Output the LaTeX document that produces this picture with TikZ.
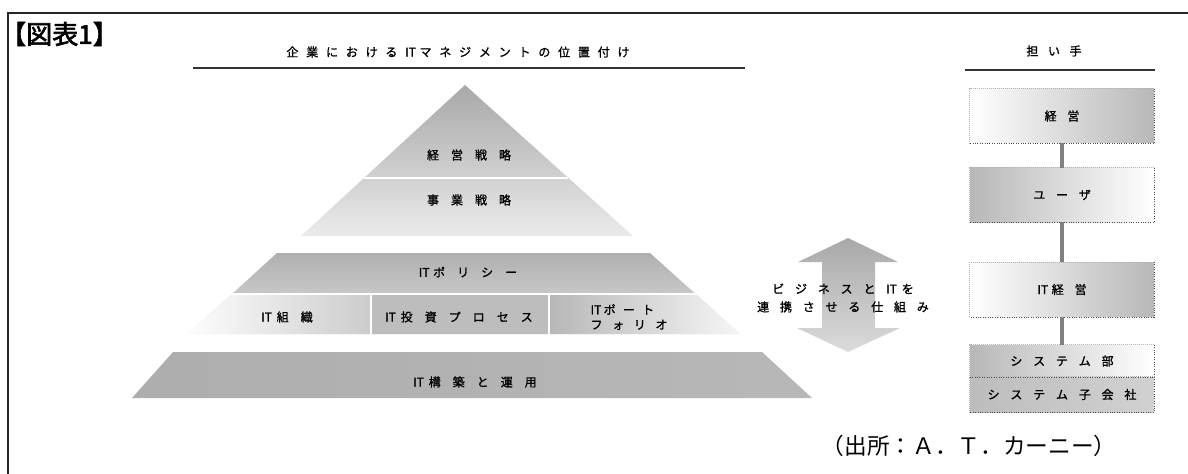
\documentclass[tikz,border=0pt]{standalone}
\usepackage{fontspec}
\newfontfamily\jp[FakeBold=1.2]{Noto Sans CJK JP}
\newfontfamily\jpn{Noto Sans CJK JP}
\newfontfamily\jpb[FakeBold=2.5]{Noto Sans CJK JP}
\newcommand\jsp{\hspace{1em}}
\newcommand\jsq{\hspace{0.9em}}
\newcommand\jsh{\hspace{0.65em}}
\begin{document}
\begin{tikzpicture}[x=0.75pt,y=-0.75pt,
  lbl/.style={inner sep=0pt, font=\jp\fontsize{9}{11}\selectfont},
  frameline/.style={line width=1.1pt, black!85},
  rule/.style={line width=1pt, black!80},
  rbox/.style={rectangle, inner sep=0pt, minimum width=138pt, font=\jp\fontsize{9}{11}\selectfont},
  dotedge/.style={densely dotted, line width=0.8pt, black!70},
  lightedge/.style={densely dotted, line width=0.5pt, black!30},
  linkbar/.style={line width=2.4pt, black!50},
  whiteline/.style={white, line width=1.2pt}]
\useasboundingbox (0,0) rectangle (1188,474);

% frame
\coordinate (fTL) at (8,13);
\coordinate (fTR) at (1188,13);
\coordinate (fBL) at (8,474);
\draw[frameline] (fTR) -- (fTL) -- (fBL);

% title
\node[inner sep=0pt, anchor=west, font=\jpb\fontsize{19.5}{22}\selectfont] (title) at (0,34) {【図表1】};

% headers
\node[lbl] (hdr1) at (458,52) {企\jsh 業\jsh に\jsh お\jsh け\jsh る\jsh IT\hspace{0.3em}マ\jsh ネ\jsh ジ\jsh メ\jsh ン\jsh ト\jsh の\jsh 位\jsh 置\jsh 付\jsh け};
\coordinate (u1a) at (193,68);
\coordinate (u1b) at (745,68);
\draw[rule] (u1a) -- (u1b);
\node[lbl] (hdr2) at (1054,51) {担\hspace{0.8em}い\hspace{0.8em}手};
\coordinate (u2a) at (965,70);
\coordinate (u2b) at (1155,70);
\draw[rule] (u2a) -- (u2b);

% top triangle
\shade[top color=black!34, bottom color=black!8] (465,85) -- (633,236) -- (301,236) -- cycle;
\draw[whiteline] (364,178) -- (568,178);
\node[lbl] (keieisenryaku) at (469,155) {経\jsp 営\jsp 戦\jsp 略};
\node[lbl] (jigyosenryaku) at (469,200) {事\jsp 業\jsp 戦\jsp 略};

% middle trapezoid
\begin{scope}
\clip (277,253) -- (650,253) -- (740,334) -- (188,334) -- cycle;
\shade[top color=black!32, bottom color=black!12] (180,250) rectangle (745,336);
\shade[left color=white, right color=black!20] (180,294) rectangle (371,336);
\fill[black!26] (371,294) rectangle (549,336);
\shade[left color=black!28, right color=black!3] (549,294) rectangle (745,336);
\draw[whiteline] (180,294) -- (745,294);
\draw[whiteline] (371,294) -- (371,336);
\draw[whiteline, line width=2pt] (549,294) -- (549,336);
\end{scope}
\node[lbl] (itpolicy) at (468,272) {IT\hspace{0.3em}ポ\jsp リ\jsp シ\jsp ー};
\node[lbl] (itsoshiki) at (287,317) {IT\hspace{0.4em}組\jsp 織};
\node[lbl] (ittoshi) at (459,317) {IT\hspace{0.4em}投\jsp 資\jsp プ\jsp ロ\jsp セ\jsp ス};
\node[lbl, align=left, font=\jp\fontsize{9}{11.2}\selectfont] (itportfolio) at (629,317) {IT\hspace{0.2em}ポ\hspace{0.6em}ー\hspace{0.6em}ト\\フ\hspace{0.8em}ォ\hspace{0.8em}リ\hspace{0.8em}オ};

% bottom trapezoid
\shade[left color=black!32, middle color=black!10, right color=black!28] (173,352) -- (762,352) -- (812,398) -- (132,398) -- cycle;
\node[lbl] (itkochiku) at (475,382) {IT\hspace{0.4em}構\jsp 築\jsp と\jsp 運\jsp 用};

% double arrow
\shade[top color=black!34, bottom color=black!14]
  (848,238) -- (898,262) -- (875,262) -- (875,328) -- (900,328) -- (848,352)
  -- (797,328) -- (822,328) -- (822,262) -- (798,262) -- cycle;
\node[lbl, align=center, font=\jp\fontsize{9}{13.5}\selectfont] (renkei) at (843,298)
  {ビ\jsq ジ\jsq ネ\jsq ス\jsq と\jsq IT\hspace{0.4em}を\\連\jsq 携\jsq さ\jsq せ\jsq る\jsq 仕\jsq 組\jsq み};

% right column
\node[rbox, minimum height=40.5pt, left color=white, right color=black!28] (keiei) at (1062,116) {経\jsq 営};
\node[rbox, minimum height=40.5pt, left color=black!28, right color=white] (user) at (1062,195) {ユ\jsq ー\jsq ザ};
\node[rbox, minimum height=41pt, left color=white, right color=black!28] (itkeiei) at (1062,289.5) {IT\hspace{0.3em}経\jsq 営};
\node[rbox, minimum height=24pt, left color=black!28, right color=white] (sysbu) at (1062,361) {シ\jsq ス\jsq テ\jsq ム\jsq 部};
\node[rbox, minimum height=26.25pt, left color=black!26, right color=black!18] (syskogaisha) at (1062,394.5) {シ\jsq ス\jsq テ\jsq ム\jsq 子\jsq 会\jsq 社};

\foreach \b in {keiei,user,itkeiei,sysbu,syskogaisha}{
  \draw[lightedge] (\b.south west) -- (\b.north west) -- (\b.north east);
  \draw[dotedge] (\b.north east) -- (\b.south east) -- (\b.south west);
}
\draw[linkbar] (keiei.south) -- (user.north);
\draw[linkbar] (user.south) -- (itkeiei.north);
\draw[linkbar] (itkeiei.south) -- (sysbu.north);

% source
\node[inner sep=0pt, font=\jpn\fontsize{17}{20}\selectfont] (source) at (969,446) {（出所：Ａ．Ｔ．カーニー）};
\end{tikzpicture}
\end{document}
